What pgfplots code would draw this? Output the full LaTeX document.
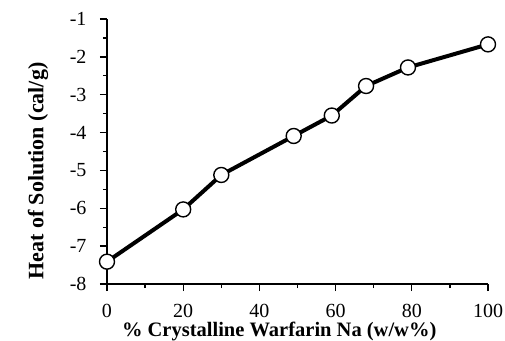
\documentclass[border=0pt]{standalone}
\usepackage{pgfplots}
\pgfplotsset{compat=1.18}
\usepackage{fontspec}
\setmainfont{Liberation Serif}
\newcommand{\tfont}{\fontsize{20bp}{22bp}\selectfont}
\begin{document}
\begin{tikzpicture}
\begin{axis}[
  name=ax,
  scale only axis,
  width=381bp, height=265bp,
  xmin=0, xmax=100, ymin=-8, ymax=-1,
  axis x line=bottom, axis y line=left,
  axis line style={-, line width=1.3bp},
  xtick={0,20,40,60,80,100},
  ytick={-8,-7,-6,-5,-4,-3,-2,-1},
  /pgf/number format/assume math mode=true,
  xticklabel={\tfont\pgfmathprintnumber{\tick}},
  yticklabel={\tfont\pgfmathprintnumber{\tick}},
  minor xtick={10,30,50,70,90},
  minor ytick={-7.5,-6.5,-5.5,-4.5,-3.5,-2.5,-1.5},
  tick align=outside,
  major tick length=7bp, minor tick length=4bp,
  every tick/.style={black, line width=1.3bp},
  xticklabel style={inner sep=1bp, yshift=-12bp},
  yticklabel style={xshift=-10bp},
  xlabel={\textbf{\% Crystalline Warfarin Na (w/w\%)}},
  ylabel={\textbf{Heat of Solution (cal/g)}},
  xlabel style={font=\fontsize{20.5bp}{22bp}\selectfont, inner sep=1bp, at={(axis description cs:0.452,-0.178)}, anchor=center},
  ylabel style={font=\fontsize{22bp}{24bp}\selectfont, at={(axis description cs:-0.181,0.426)}, anchor=center},
  clip=false,
]
\addplot[black, line width=4bp, mark=*, mark size=7.5bp,
  mark options={fill=white, draw=black, line width=1.4bp}]
coordinates {
(0,-7.41) (20,-6.03) (30,-5.12) (49,-4.09) (59,-3.55) (68,-2.77) (79,-2.28) (100,-1.67)
};
\end{axis}
\pgfresetboundingbox
\path ([xshift=-107bp,yshift=-57bp]ax.south west) rectangle ([xshift=17bp,yshift=19bp]ax.north east);
\end{tikzpicture}
\end{document}
